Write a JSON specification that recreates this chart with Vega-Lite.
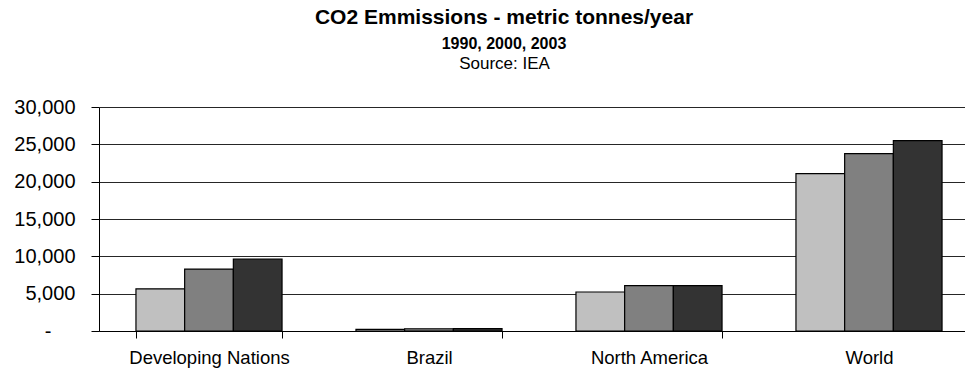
{
  "$schema": "https://vega.github.io/schema/vega-lite/v6.json",
  "autosize": "none",
  "padding": {"left": 99, "top": 107, "right": 0, "bottom": 42},
  "width": 866,
  "height": 224,
  "background": "white",
  "title": {
    "text": "CO2 Emmissions - metric tonnes/year",
    "subtitle": "1990, 2000, 2003",
    "anchor": "middle",
    "frame": "group",
    "dx": -28,
    "font": "Liberation Sans",
    "fontSize": 21,
    "fontWeight": "bold",
    "color": "black",
    "subtitleFont": "Liberation Sans",
    "subtitleFontSize": 16,
    "subtitleFontWeight": "bold",
    "subtitleColor": "black",
    "subtitlePadding": 8,
    "offset": 2
  },
  "data": {
    "values": [
      {"region": "Developing Nations", "year": "1990", "co2": 5650},
      {"region": "Developing Nations", "year": "2000", "co2": 8300},
      {"region": "Developing Nations", "year": "2003", "co2": 9640},
      {"region": "Brazil", "year": "1990", "co2": 210},
      {"region": "Brazil", "year": "2000", "co2": 300},
      {"region": "Brazil", "year": "2003", "co2": 320},
      {"region": "North America", "year": "1990", "co2": 5220},
      {"region": "North America", "year": "2000", "co2": 6070},
      {"region": "North America", "year": "2003", "co2": 6070},
      {"region": "World", "year": "1990", "co2": 21070},
      {"region": "World", "year": "2000", "co2": 23750},
      {"region": "World", "year": "2003", "co2": 25490}
    ]
  },
  "mark": {"type": "bar", "stroke": "black", "strokeWidth": 1.2},
  "encoding": {
    "x": {
      "field": "region",
      "type": "nominal",
      "sort": null,
      "scale": {"range": [0, 880], "paddingInner": 0.336, "paddingOuter": 0.168},
      "axis": {
        "title": null,
        "labelAngle": 0,
        "labelFont": "Liberation Sans",
        "labelFontSize": 18.5,
        "labelColor": "black",
        "labelPadding": 10,
        "tickBand": "extent",
        "tickColor": "black",
        "tickOpacity": {"condition": {"test": "datum.index === 1", "value": 0}, "value": 1},
        "tickSize": 7,
        "domainColor": "black",
        "grid": false
      }
    },
    "xOffset": {"field": "year", "type": "nominal", "scale": {"paddingInner": 0, "paddingOuter": 0}},
    "y": {
      "field": "co2",
      "type": "quantitative",
      "scale": {"domain": [0, 30000], "nice": false},
      "axis": {
        "values": [0, 5000, 10000, 15000, 20000, 25000, 30000],
        "format": ",.0f",
        "labelExpr": "datum.value === 0 ? '-' : datum.label",
        "labelFont": "Liberation Sans",
        "labelFontSize": 20,
        "labelColor": "black",
        "labelPadding": {"condition": {"test": "datum.value === 0", "value": 40}, "value": 16},
        "tickColor": "black",
        "tickSize": 8,
        "domainColor": "black",
        "grid": true,
        "gridColor": "black",
        "gridOpacity": 0.85,
        "title": "Source: IEA",
        "titleAngle": 0,
        "titleX": 405,
        "titleY": -44,
        "titleAlign": "center",
        "titleBaseline": "middle",
        "titleFont": "Liberation Sans",
        "titleFontSize": 17,
        "titleFontWeight": "normal",
        "titleColor": "black"
      }
    },
    "color": {
      "field": "year",
      "type": "nominal",
      "scale": {"range": ["#C0C0C0", "#808080", "#333333"]},
      "legend": null
    }
  },
  "config": {"view": {"stroke": null}}
}
